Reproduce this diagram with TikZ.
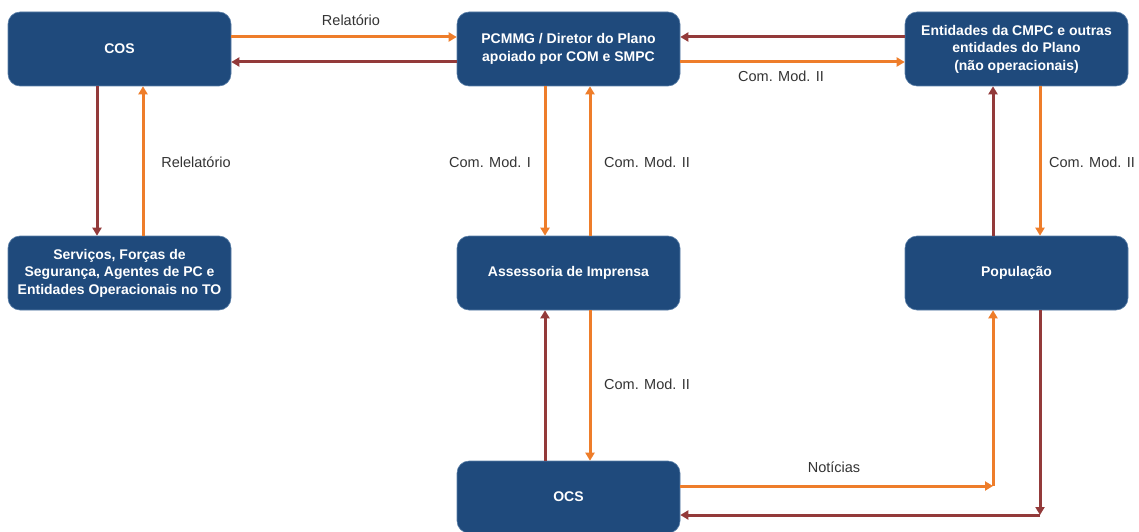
\documentclass[tikz,border=0pt]{standalone}
\usepackage{fontspec}
\setmainfont{Liberation Sans}
\usetikzlibrary{arrows.meta}
\definecolor{boxblue}{HTML}{1F4A7C}
\definecolor{boxedge}{HTML}{5A7FA8}
\definecolor{orangeln}{HTML}{EE7D2A}
\definecolor{redln}{HTML}{933A3A}
\definecolor{lbl}{HTML}{333333}
\begin{document}
\begin{tikzpicture}[x=1pt,y=-1pt,
  blk/.style={draw=boxedge,line width=0.6pt,fill=boxblue,rounded corners=12pt,text=white,
    font=\fontsize{14}{17.5}\selectfont\bfseries,align=center,inner sep=0pt,
    minimum width=223pt,minimum height=74pt},
  tip/.style={-{Triangle[length=8pt,width=9pt]}},
  oline/.style={tip,draw=orangeln,line width=3pt},
  rline/.style={tip,draw=redln,line width=3pt},
  lab/.style={text=lbl,font=\fontsize{14.5}{17}\selectfont}]
\useasboundingbox (0,0) rectangle (1139,532);
\node[blk] (cos) at (119.5,49) {COS};
\node[blk] (pc) at (568.5,49) {PCMMG / Diretor do Plano\\apoiado por COM e SMPC};
\node[blk] (ent) at (1016.5,49) {Entidades da CMPC e outras\\entidades do Plano\\(não operacionais)};
\node[blk] (serv) at (119.5,273) {Serviços, Forças de\\Segurança, Agentes de PC e\\Entidades Operacionais no TO};
\node[blk] (ass) at (568.5,273) {Assessoria de Imprensa};
\node[blk] (pop) at (1016.5,273) {População};
\node[blk,minimum height=72pt] (ocs) at (568.5,497) {OCS};
% top row
\draw[oline] (cos.east |- 0,37) -- (pc.west |- 0,37);
\node[lab] (l0) at (351,20) {Relatório};
\draw[rline] (pc.west |- 0,62) -- (cos.east |- 0,62);
\draw[rline] (ent.west |- 0,37) -- (pc.east |- 0,37);
\draw[oline] (pc.east |- 0,62) -- (ent.west |- 0,62);
\node[lab] (l7) at (781,76) {Com. Mod. II};
% COS - Servicos
\draw[rline] (cos.south -| 97,0) -- (serv.north -| 97,0);
\draw[oline] (serv.north -| 143,0) -- (cos.south -| 143,0);
\node[lab] (l1) at (196,162) {Relelatório};
% PC - Assessoria
\draw[oline] (pc.south -| 545,0) -- (ass.north -| 545,0);
\draw[oline] (ass.north -| 590,0) -- (pc.south -| 590,0);
\node[lab] (l2) at (490,162) {Com. Mod. I};
\node[lab] (l3) at (647,162) {Com. Mod. II};
% Ent - Pop
\draw[oline] (ent.south -| 1040,0) -- (pop.north -| 1040,0);
\draw[rline] (pop.north -| 993,0) -- (ent.south -| 993,0);
\node[lab] (l4) at (1092,162) {Com. Mod. II};
% Ass - OCS
\draw[rline] (ocs.north -| 545,0) -- (ass.south -| 545,0);
\draw[oline] (ass.south -| 590,0) -- (ocs.north -| 590,0);
\node[lab] (l5) at (647,384) {Com. Mod. II};
% OCS - Pop
\coordinate (c1) at (993,486);
\coordinate (c2) at (1040,515);
\draw[oline] (ocs.east |- c1) -- (c1);
\draw[oline] (c1) -- (pop.south -| c1);
\node[lab] (l6) at (834,467) {Notícias};
\draw[rline] (pop.south -| c2) -- (c2);
\draw[rline] (c2) -- (ocs.east |- c2);
\end{tikzpicture}
\end{document}
